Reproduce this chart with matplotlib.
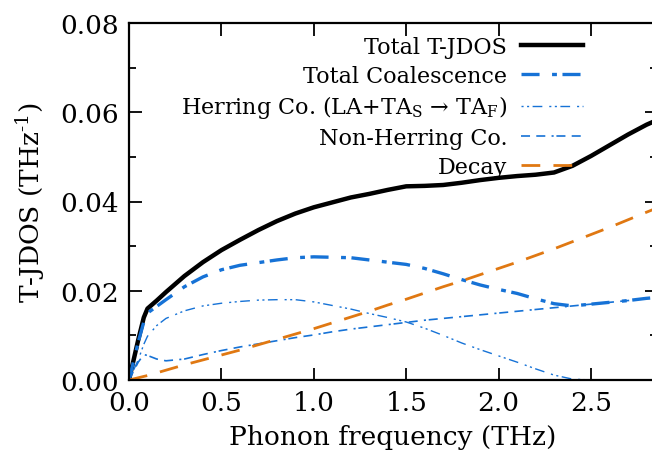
import numpy as np
import matplotlib
matplotlib.use('Agg')
import matplotlib.pyplot as plt
from matplotlib.ticker import MultipleLocator

# ~~~~~~~~~~~~~~~~~~~~~~~~~~~~~~~~~~~~~~~ #
# data
freq = [0.0, 0.05, 0.08, 0.1, 0.15, 0.2, 0.3, 0.4, 0.5, 0.6, 0.7, 0.8, 0.9, 1.0,
        1.1, 1.2, 1.3, 1.4, 1.5, 1.6, 1.7, 1.8, 1.9, 2.0, 2.1, 2.2, 2.3, 2.4,
        2.5, 2.6, 2.7, 2.8, 2.86]

total_jdos = [0.0, 0.0090, 0.0140, 0.0160, 0.0178, 0.0197, 0.0233, 0.0264, 0.0291,
              0.0314, 0.0336, 0.0356, 0.0373, 0.0387, 0.0398, 0.0409, 0.0417,
              0.0426, 0.0434, 0.0435, 0.0437, 0.0442, 0.0448, 0.0453, 0.0457,
              0.0460, 0.0465, 0.0480, 0.0502, 0.0526, 0.0550, 0.0572, 0.0583]

total_coal = [0.0, 0.0085, 0.0130, 0.0150, 0.0165, 0.0180, 0.0209, 0.0231, 0.0247,
              0.0257, 0.0263, 0.0269, 0.0274, 0.0276, 0.0275, 0.0274, 0.0269,
              0.0264, 0.0259, 0.0250, 0.0238, 0.0225, 0.0213, 0.0203, 0.0194,
              0.0182, 0.0171, 0.0166, 0.0170, 0.0174, 0.0178, 0.0183, 0.0185]

herring = [0.0, 0.0045, 0.0080, 0.0098, 0.0122, 0.0138, 0.0155, 0.0166, 0.0172,
           0.0176, 0.0179, 0.0180, 0.0180, 0.0175, 0.0167, 0.0159, 0.0149,
           0.0140, 0.0130, 0.0116, 0.0100, 0.0083, 0.0068, 0.0054, 0.0040,
           0.0025, 0.0011, 0.0002, 0.0, 0.0, 0.0, 0.0, 0.0]

non_herring = [0.0, 0.0040, 0.0057, 0.0055, 0.0047, 0.0043, 0.0047, 0.0057, 0.0066,
               0.0074, 0.0081, 0.0088, 0.0095, 0.0101, 0.0108, 0.0114, 0.0119,
               0.0124, 0.0129, 0.0134, 0.0138, 0.0142, 0.0146, 0.0150, 0.0154,
               0.0158, 0.0162, 0.0166, 0.0170, 0.0174, 0.0178, 0.0183, 0.0185]

decay = [0.0, 0.0005, 0.0008, 0.0010, 0.0016, 0.0022, 0.0034, 0.0045, 0.0056,
         0.0067, 0.0079, 0.0091, 0.0103, 0.0115, 0.0128, 0.0141, 0.0154,
         0.0168, 0.0181, 0.0195, 0.0209, 0.0222, 0.0236, 0.0250, 0.0264,
         0.0279, 0.0294, 0.0310, 0.0326, 0.0342, 0.0359, 0.0376, 0.0386]

labels = ['Total T-JDOS', 'Total Coalescence',
          'Herring Co. (LA+TA$_\\mathrm{S}$ \u2192 TA$_\\mathrm{F}$)',
          'Non-Herring Co.', 'Decay']

# ~~~~~~~~~~~~~~~~~~~~~~~~~~~~~~~~~~~~~~~ #
plt.rcParams['font.family'] = 'DejaVu Serif'
plt.rcParams['mathtext.fontset'] = 'dejavuserif'
plt.rcParams['lines.scale_dashes'] = False

blue   = '#1672d6'
orange = '#e07812'
fs  = 19   # ticks and axis labels
lfs = 16   # legend

fig = plt.figure(figsize = (6.52, 4.64), dpi = 100)
ax  = fig.add_axes([129/652, 83/464, 528/652, 357/464])

ax.plot(freq, total_jdos,  color = 'black', lw = 3.2, label = labels[0])
ax.plot(freq, total_coal,  color = blue,    lw = 2.4, dashes = [13, 9, 3.5, 4], label = labels[1])
ax.plot(freq, herring,     color = blue,    lw = 1.0, dashes = [1.5, 2.5, 1.5, 2.5, 7, 5], label = labels[2])
ax.plot(freq, non_herring, color = blue,    lw = 1.2, dashes = [6.5, 4.5, 6.5, 4.5, 1.5, 2], label = labels[3])
ax.plot(freq, decay,       color = orange,  lw = 2.0, dashes = [13.5, 9.5], label = labels[4])

ax.set_xlim(0, 2.857)
ax.set_ylim(0, 0.08)
ax.xaxis.set_major_locator(MultipleLocator(0.5))
ax.yaxis.set_major_locator(MultipleLocator(0.02))
ax.yaxis.set_minor_locator(MultipleLocator(0.01))
ax.tick_params(which = 'both', direction = 'in', top = True, right = True, labelsize = fs, width = 1.3)
ax.tick_params(which = 'major', length = 9, pad = 7)
ax.tick_params(which = 'minor', length = 5)
for sp in ax.spines.values():
    sp.set_linewidth(1.6)

ax.set_xlabel('Phonon frequency (THz)', fontsize = fs, labelpad = 7)
ax.set_ylabel(r'T-JDOS (THz$^{\text{-}1}$)', fontsize = fs, labelpad = 10)

ax.legend(loc = 'upper right', bbox_to_anchor = (583/652, 1 - 37/464),
          bbox_transform = fig.transFigure, frameon = False, markerfirst = False,
          fontsize = lfs, handlelength = 45/lfs, handletextpad = 0.6,
          labelspacing = 0.3, borderpad = 0, borderaxespad = 0)

fig.savefig('out.png', dpi = 100)
